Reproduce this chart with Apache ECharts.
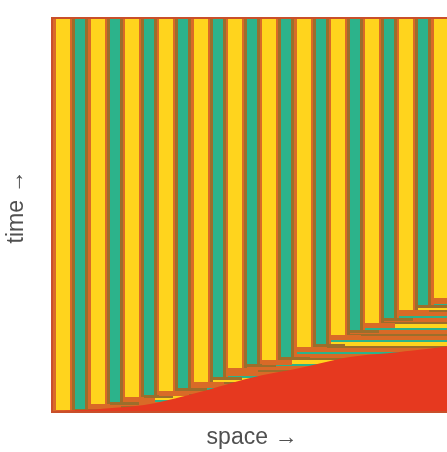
<!DOCTYPE html>
<html>
<head>
<meta charset="utf-8">
<script src="https://cdn.jsdelivr.net/npm/echarts@6/dist/echarts.min.js"></script>
<style>
html,body{margin:0;padding:0;background:#fff;}
#chart{width:447px;height:452px;}
</style>
</head>
<body>
<div id="chart"></div>
<script>
// ---- data (space units across, time units upward) ----
const spaceMax = 400;
const timeMax = 394;
// left edge of each yellow band along space (last entry closes the final band)
const bandStarts = [4, 39, 73, 107, 142, 176, 210, 245, 279, 313, 347, 382, 416];
// time at which each band's yellow stripe begins (its lower end)
const yellowEnd = [2, 8, 15, 21, 30, 44, 52, 65, 77, 89, 102, 114];
// time at which each band's teal stripe begins
const tealEnd = [3, 10, 17, 24, 35, 48, 55, 68, 82, 94, 107, 120];
// states across one band: [offset, span, state]; the last one runs to the next band
const bandLayout = [[0, 14, 'Y'], [14, 2, 'O'], [16, 3, 'B'], [19, 10, 'T'], [29, 3, 'B'], [32, 2, 'O']];
// top of the red (quiescent) region: space positions and times
const redSpace = [0, 48, 98, 148, 198, 248, 298, 348, 400];
const redTime = [1, 3, 8, 20, 34, 44, 55, 60, 66];
// horizontal streak rows in the transition zone (time boundaries, states)
const streakTimes = [0, 4, 6, 10, 12, 16, 18, 22, 24, 28, 30, 34, 36, 40, 42, 46, 48, 52, 54, 58, 60, 64, 66, 70, 72, 76, 78, 82, 84, 88, 90, 94, 96, 100, 102, 106, 108, 112, 114, 118, 120, 124, 126];
const streakStates = ['O', 'B', 'O', 'T', 'Y', 'B', 'O', 'T', 'O', 'B', 'Y', 'T', 'O', 'B', 'O', 'T', 'Y', 'B', 'O', 'T', 'O', 'B', 'Y', 'T', 'O', 'B', 'O', 'T', 'Y', 'B', 'O', 'T', 'O', 'B', 'Y', 'T', 'O', 'B', 'O', 'T', 'Y', 'B'];

const stateColors = { R: '#E6391F', O: '#D96A27', Y: '#FFD41D', B: '#9C6E2B', T: '#2CB38B' };
const stateList = ['R', 'O', 'Y', 'B', 'T'];
const sIdx = s => stateList.indexOf(s);

// ---- build rectangles [x0, x1, tBottom, tTop, stateIndex] ----
const streakRects = [];
for (let i = 0; i < streakStates.length; i++) {
  streakRects.push([0, spaceMax, streakTimes[i], streakTimes[i + 1], sIdx(streakStates[i])]);
}
const stripeRects = [[0, bandStarts[0], 0, timeMax, sIdx('O')]];
const capRects = [];
yellowEnd.forEach((yEnd, k) => {
  const b = bandStarts[k];
  const next = bandStarts[k + 1];
  bandLayout.forEach(([off, span, s], j) => {
    const end = off < 19 ? yEnd : tealEnd[k];
    const x1 = j === bandLayout.length - 1 ? next : b + off + span;
    stripeRects.push([b + off, x1, end, timeMax, sIdx(s)]);
  });
  capRects.push([b, b + 30, yEnd - 5, yEnd, sIdx('O')]);
  capRects.push([b + 19, b + 48, tealEnd[k] - 3, tealEnd[k], sIdx('B')]);
});
const redLine = redSpace.map((x, i) => [x, redTime[i]]);

function rectItem(params, api) {
  const p0 = api.coord([api.value(0), api.value(3)]);
  const p1 = api.coord([api.value(1), api.value(2)]);
  return {
    type: 'rect',
    shape: { x: p0[0], y: p0[1], width: p1[0] - p0[0], height: p1[1] - p0[1] },
    style: { fill: stateColors[stateList[api.value(4)]] }
  };
}

const chart = echarts.init(document.getElementById('chart'));
chart.setOption({
  animation: false,
  backgroundColor: '#ffffff',
  grid: {
    left: 52, top: 18, width: 400, height: 394, outerBoundsMode: 'none', containLabel: false,
    show: true, borderColor: '#C94F2A', borderWidth: 2, backgroundColor: 'transparent', z: 10
  },
  xAxis: {
    type: 'value', min: 0, max: spaceMax,
    axisLine: { show: false }, axisTick: { show: false }, axisLabel: { show: false }, splitLine: { show: false },
    name: 'space →', nameLocation: 'middle', nameGap: 14,
    nameTextStyle: { fontFamily: 'Liberation Sans', fontSize: 23, color: '#505050' }
  },
  yAxis: {
    type: 'value', min: 0, max: timeMax,
    axisLine: { show: false }, axisTick: { show: false }, axisLabel: { show: false }, splitLine: { show: false },
    name: 'time →', nameLocation: 'middle', nameGap: 24,
    nameTextStyle: { fontFamily: 'Liberation Sans', fontSize: 23, color: '#505050', padding: [0, 0, 0, 16] }
  },
  series: [
    { type: 'custom', name: 'streaks', renderItem: rectItem, data: streakRects, clip: true, z: 1, silent: true },
    { type: 'custom', name: 'caps', renderItem: rectItem, data: capRects, clip: true, z: 2, silent: true },
    { type: 'custom', name: 'stripes', renderItem: rectItem, data: stripeRects, clip: true, z: 3, silent: true },
    {
      type: 'line', name: 'quiescent', data: redLine, smooth: 0.3, symbol: 'none', z: 4, silent: true,
      lineStyle: { width: 0 }, areaStyle: { color: stateColors.R, opacity: 1, origin: 'start' }, clip: true
    }
  ]
});
</script>
</body>
</html>
